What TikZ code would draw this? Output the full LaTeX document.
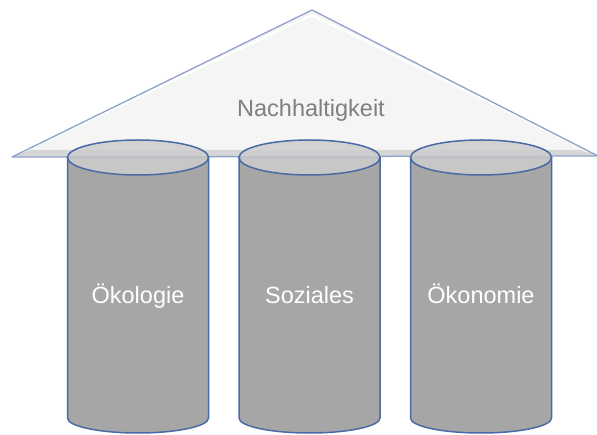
\documentclass[tikz,border=0pt]{standalone}
\usepackage{fontspec}
\setmainfont{Liberation Sans}
\usepackage{tikz}
\usetikzlibrary{positioning}
\definecolor{RoofFill}{HTML}{F5F5F5}
\definecolor{RoofEdge}{HTML}{8FA3C8}
\definecolor{RoofShade}{HTML}{D6D6D6}
\definecolor{PillarBody}{HTML}{A6A6A6}
\definecolor{PillarTop}{HTML}{CDCDCD}
\definecolor{PillarEdge}{HTML}{4A6AA5}
\definecolor{RoofText}{HTML}{7F7F7F}

\begin{document}
\begin{tikzpicture}[x=1pt,y=-1pt,
  pillar/.style={fill=PillarBody,draw=PillarEdge,line width=1.5pt},
  pillartop/.style={fill=PillarTop,fill opacity=0.85,draw=PillarEdge,draw opacity=1,line width=1.5pt},
  pillarlabel/.style={text=white,anchor=base,font=\fontsize{23.5}{28}\selectfont}]
  \useasboundingbox (0,0) rectangle (597,435);
  % roof
  \coordinate (apex) at (312,10);
  \coordinate (eaveL) at (12,157);
  \coordinate (eaveR) at (598,156);
  \fill[RoofFill] (eaveL) -- (apex) -- (eaveR) -- cycle;
  \fill[RoofShade] (eaveL) -- (30,150) -- (580,150) -- (eaveR) -- cycle;
  \draw[white,line width=2pt] (24,151) -- (312,15) -- (586,150);
  \draw[RoofEdge,line width=1.3pt,line join=round] (eaveL) -- (apex) -- (eaveR) -- cycle;
  \node[text=RoofText,anchor=base,font=\fontsize{23.5}{28}\selectfont] (roof) at (311,117) {Nachhaltigkeit};
  % pillars
  \foreach \cx/\name/\txt in {138/oekologie/Ökologie, 309.5/soziales/Soziales, 481/oekonomie/Ökonomie}{
    \draw[pillar] (\cx-70.5,157.5) -- (\cx-70.5,418)
      arc[start angle=180,end angle=0,x radius=70.5,y radius=15] -- (\cx+70.5,157.5) -- cycle;
    \draw[pillartop] (\cx,157.5) ellipse[x radius=70.5,y radius=17.5];
    \node[pillarlabel] (\name) at (\cx,304) {\txt};
  }
\end{tikzpicture}
\end{document}
